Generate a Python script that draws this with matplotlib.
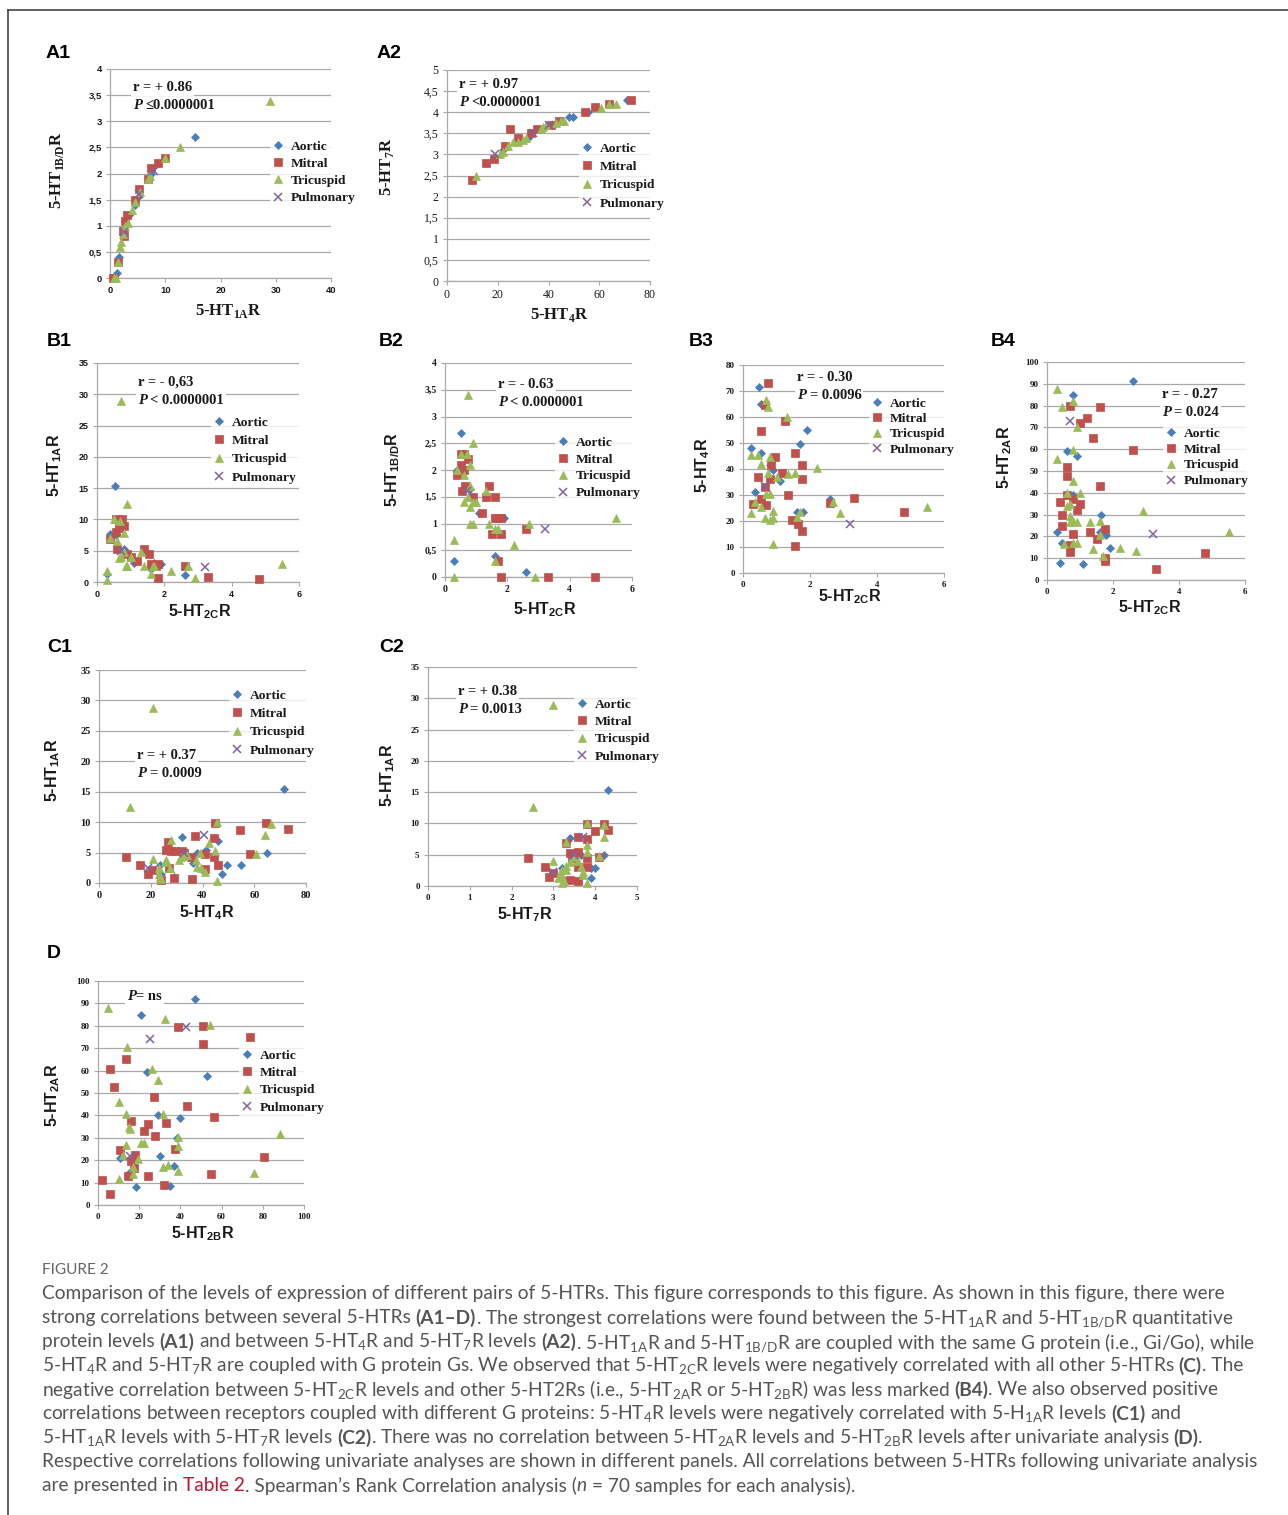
import matplotlib
matplotlib.use('Agg')
import matplotlib.pyplot as plt
from matplotlib.lines import Line2D
from matplotlib.ticker import FuncFormatter, MultipleLocator
import numpy as np

W, H = 1288, 1515
SERIF = 'Liberation Serif'
SANS = 'Liberation Sans'
CAPTION_FONT = 'Lato'
GRID = '#a9a9a9'
TXT = '#1a1a1a'

# ---- data: (x, y) pairs per valve ----
A1_AORTIC = [(15.4, 2.7), (1.6, 0.4), (1.2, 0.1), (7.5, 2.0), (5.0, 1.55), (4.5, 1.4), (3.5, 1.2), (2.5, 0.9)]
A1_MITRAL = [(10, 2.3), (8.7, 2.2), (7.5, 2.1), (6.8, 1.9), (5.3, 1.7), (4.5, 1.5), (3.0, 1.2), (2.8, 1.1),
             (2.4, 0.9), (2.5, 0.8), (1.5, 0.3), (0.5, 0.0), (0.8, 0.0)]
A1_TRICUSPID = [(29, 3.38), (12.6, 2.5), (10, 2.3), (6.8, 1.9), (7.2, 1.95), (5.5, 1.65), (4.5, 1.45), (4.0, 1.3),
                (3.2, 1.05), (2.7, 1.0), (2.3, 0.85), (2.0, 0.68), (1.8, 0.6), (1.5, 0.3), (0.8, 0.0), (1.0, 0.0)]
A1_PULMONARY = [(8.0, 2.05), (5.2, 1.6), (2.5, 0.88)]

A2_AORTIC = [(71, 4.3), (55.5, 4.0), (49.5, 3.88), (48, 3.88), (45, 3.8), (43, 3.75), (32, 3.4), (22, 3.1)]
A2_MITRAL = [(72.5, 4.3), (64, 4.2), (58.5, 4.12), (54.5, 4.0), (44, 3.8), (41, 3.7), (35.5, 3.6), (33, 3.5),
             (28, 3.4), (25, 3.6), (23, 3.2), (18.5, 2.9), (15.5, 2.8), (10, 2.4)]
A2_TRICUSPID = [(11.5, 2.5), (21, 3.0), (22, 3.05), (24, 3.2), (26, 3.3), (28, 3.3), (30, 3.35), (31, 3.4),
                (37, 3.6), (38, 3.65), (39, 3.7), (43, 3.75), (45, 3.8), (46, 3.8), (60.5, 4.1), (64, 4.2), (66.5, 4.2)]
A2_PULMONARY = [(19, 3.0), (34, 3.5), (40, 3.7)]

B1_AORTIC = [(0.52, 15.3), (0.4, 7.6), (0.55, 7.5), (0.3, 1.3), (0.8, 5.2), (1.1, 3.0), (1.6, 2.0), (1.7, 3.0),
             (1.9, 2.8), (2.6, 1.1)]
B1_MITRAL = [(0.55, 10), (0.75, 10), (0.8, 9), (0.65, 8.7), (0.55, 8), (0.4, 6.8), (0.6, 5.2), (0.9, 4.5), (1.0, 4),
             (1.2, 3.3), (1.4, 5.2), (1.55, 4.4), (1.6, 2.8), (1.75, 2.6), (1.8, 2.8), (1.8, 0.6), (2.6, 2.5),
             (3.3, 0.8), (4.8, 0.4)]
B1_TRICUSPID = [(0.7, 29), (0.9, 12.5), (0.5, 10), (0.68, 9.8), (0.8, 7.8), (0.4, 7), (0.6, 6.5), (0.3, 1.8),
                (0.3, 0.3), (0.7, 4), (0.65, 3.8), (0.8, 4.8), (0.85, 2.6), (0.9, 2.6), (1.0, 4), (1.3, 4.8),
                (1.4, 2.5), (1.6, 1.3), (1.65, 2.5), (1.7, 2.5), (2.2, 1.8), (2.7, 2.5), (2.9, 0.6), (5.5, 2.9)]
B1_PULMONARY = [(0.7, 5.0), (3.2, 2.4)]

B2_AORTIC = [(0.5, 2.7), (0.4, 2.0), (0.8, 1.65), (1.1, 1.2), (1.9, 1.1), (1.6, 0.4), (0.3, 0.3), (2.6, 0.1)]
B2_MITRAL = [(0.5, 2.3), (0.6, 2.3), (0.75, 2.2), (0.5, 2.1), (0.6, 2.0), (0.4, 1.9), (0.65, 1.7), (0.55, 1.6),
             (0.9, 1.5), (1.3, 1.5), (1.6, 1.5), (1.4, 1.7), (1.2, 1.2), (1.6, 1.1), (1.7, 1.1), (1.8, 1.1),
             (1.5, 0.8), (1.8, 0.8), (1.7, 0.3), (1.8, 0.0), (2.6, 0.9), (3.3, 0.0), (4.8, 0.0)]
B2_TRICUSPID = [(0.75, 3.4), (0.9, 2.5), (0.5, 2.3), (0.7, 2.3), (0.4, 2.0), (0.6, 1.9), (0.8, 2.1), (0.8, 1.7),
                (0.6, 1.4), (0.75, 1.5), (0.9, 1.4), (1.0, 1.4), (0.8, 1.3), (0.8, 1.0), (0.9, 1.0), (1.3, 1.6),
                (1.4, 1.0), (1.6, 0.9), (1.7, 0.9), (1.6, 0.3), (2.2, 0.6), (2.7, 1.0), (0.3, 0.7), (0.3, 0.0),
                (2.9, 0.0), (5.5, 1.1)]
B2_PULMONARY = [(0.7, 1.6), (3.2, 0.9)]

B3_AORTIC = [(0.47, 71.5), (0.55, 65), (0.25, 48), (0.55, 46), (0.8, 41.5), (0.9, 39.5), (1.1, 35.5), (0.35, 31),
             (1.7, 49.5), (1.9, 55), (1.6, 23.5), (1.8, 23.5), (2.6, 28.5)]
B3_MITRAL = [(0.75, 73), (0.65, 64.5), (0.55, 54.5), (1.25, 58.5), (0.95, 44.5), (0.85, 41.5), (0.8, 36),
             (1.15, 38.5), (0.45, 37), (0.65, 33), (0.55, 28.5), (0.3, 26.5), (0.7, 26), (1.35, 30), (1.55, 46),
             (1.75, 41.5), (1.75, 36), (1.45, 20.5), (1.65, 19), (1.75, 16), (1.55, 10.5), (2.6, 27), (3.3, 29),
             (4.8, 23.5)]
B3_TRICUSPID = [(0.7, 66.5), (0.75, 64), (1.3, 60), (0.25, 45.5), (0.45, 45.5), (0.55, 42), (0.8, 44.5),
                (0.75, 38.5), (1.0, 37), (1.35, 38), (1.55, 38.5), (2.2, 40.5), (0.35, 27.5), (0.7, 30.5),
                (0.8, 30.5), (0.55, 25.5), (0.25, 23), (0.65, 21), (0.8, 20.5), (0.9, 24), (0.9, 21), (0.9, 11),
                (1.6, 21.5), (1.7, 23.5), (2.7, 27.5), (2.9, 23), (5.5, 25.5)]
B3_PULMONARY = [(0.65, 33.5), (3.2, 19)]

B4_AORTIC = [(2.6, 91.5), (0.8, 85), (0.6, 59), (0.9, 57), (0.8, 39), (0.3, 22), (0.45, 17), (0.4, 8), (1.1, 7.5),
             (1.65, 30), (1.6, 22), (1.8, 20.5), (1.9, 14.5)]
B4_MITRAL = [(0.7, 80), (1.6, 79.5), (1.2, 74.5), (1.0, 72), (1.4, 65), (2.6, 59.5), (0.6, 52), (0.6, 47.5),
             (1.6, 43), (0.6, 39), (0.4, 36), (0.8, 37), (1.0, 35), (0.9, 32), (0.45, 30), (0.45, 25), (0.8, 21),
             (0.7, 16), (0.7, 13), (1.3, 22), (1.5, 19), (1.75, 23.5), (1.75, 10), (1.75, 8.5), (4.8, 12.5),
             (3.3, 5)]
B4_TRICUSPID = [(0.3, 87.5), (0.45, 79.5), (0.8, 82), (0.9, 70), (0.8, 59.5), (0.3, 55.5), (0.8, 45.5),
                (0.6, 40), (1.0, 40), (0.6, 34), (0.7, 35), (0.7, 29.5), (0.7, 26.5), (0.8, 27), (0.9, 26.5),
                (1.3, 26.5), (1.6, 27), (1.6, 20.5), (0.5, 16.5), (0.8, 17), (0.9, 17), (1.4, 14), (1.7, 11),
                (2.2, 14.5), (2.7, 13.5), (2.9, 31.5), (5.5, 22)]
B4_PULMONARY = [(0.7, 73), (3.2, 21)]

C1_AORTIC = [(71.5, 15.4), (65, 5), (55, 2.9), (49.5, 2.9), (47.5, 1.4), (46, 6.9), (41.5, 5.4), (40, 4.8),
             (38, 4.9), (36.5, 3.3), (32, 7.5), (23.5, 2.9), (24, 1.5), (29, 1.0)]
C1_MITRAL = [(73, 8.9), (64.5, 9.9), (54.5, 8.7), (58.5, 4.7), (45, 9.9), (44.5, 7.4), (44.5, 4.3), (46, 3.0),
             (41, 4.8), (41, 2.3), (37, 7.8), (35.5, 4.3), (36, 0.7), (32, 5.3), (33, 5.0), (29.5, 5.3),
             (28, 5.3), (26, 5.5), (26.5, 6.8), (27, 2.4), (29, 0.9), (24, 0.5), (16, 3), (19, 1.5), (10.5, 4.3),
             (20.5, 2.1)]
C1_TRICUSPID = [(21, 28.8), (12, 12.5), (45.5, 10), (66.5, 9.7), (64, 7.9), (60.5, 4.7), (45, 5.3), (42.5, 6.5),
                (39, 5), (37.5, 3.8), (38, 2.7), (39.5, 2.4), (41, 1.8), (45.5, 0.3), (28, 7), (27.5, 2.5),
                (25.5, 3.5), (26, 3.8), (21, 4), (23, 2.5), (23, 1.5), (23.5, 1), (24, 0.6), (31, 3.8),
                (31.5, 4.2), (33, 4.4), (34, 4.6)]
C1_PULMONARY = [(19, 2.5), (33, 5.0), (40.5, 7.9)]

C2_AORTIC = [(4.3, 15.4), (4.2, 5.0), (4.0, 2.9), (3.9, 2.9), (3.9, 1.3), (3.4, 7.6), (3.8, 7.2), (3.55, 5.4),
             (3.65, 4.9), (3.2, 2.9), (3.2, 1.2)]
C2_MITRAL = [(4.3, 8.9), (4.2, 9.9), (4.0, 8.8), (3.8, 9.9), (3.8, 7.5), (3.6, 7.8), (3.3, 6.8), (3.6, 5.4),
             (3.4, 5.2), (3.45, 4.5), (3.6, 3.0), (3.8, 4.4), (3.8, 3.0), (4.1, 4.7), (2.4, 4.5), (2.8, 3.0),
             (2.9, 1.4), (3.0, 2.1), (3.4, 1.0), (3.6, 0.8), (3.5, 5.0)]
C2_TRICUSPID = [(3.0, 29), (2.5, 12.6), (3.8, 10), (4.2, 9.8), (4.2, 7.8), (4.1, 4.8), (3.8, 6.6), (3.8, 5.5),
                (3.8, 0.5), (3.3, 7), (3.6, 4), (3.65, 3), (3.7, 2.2), (3.7, 1.8), (3.5, 4.7), (3.4, 3.8),
                (3.3, 3.2), (3.2, 2.5), (3.15, 2.0), (3.2, 1.5), (3.25, 0.8), (3.1, 1.2), (3.0, 4.0), (3.3, 2.5),
                (3.2, 0.4)]
C2_PULMONARY = [(3.0, 2.3), (3.5, 5.0), (3.7, 7.9)]

D_AORTIC = [(47, 92), (21, 85), (24, 59.5), (53, 57.5), (29, 40), (40, 39), (38.5, 30), (30, 22), (10.5, 21),
            (15, 14.5), (37, 17.5), (18.5, 8), (35, 8.5)]
D_MITRAL = [(39, 79.5), (51, 80), (51, 72), (74, 75), (13.5, 65), (6, 60.5), (8, 52.5), (27, 48), (43, 44),
            (56.5, 39.5), (16, 37.5), (24.5, 36), (33, 36.5), (22.5, 33), (27.5, 31), (37.5, 25), (10.5, 24.5),
            (18, 22.5), (16, 19.5), (17.5, 16.5), (14.5, 13), (24.5, 13), (55, 14), (32, 9), (2, 11), (6, 5),
            (80.5, 21.5)]
D_TRICUSPID = [(5, 88), (32.5, 83), (54.5, 80.5), (14, 70.5), (26, 60.5), (29, 56), (10, 46), (13.5, 40.5),
               (31.5, 40.5), (15, 35), (15.5, 34), (13.5, 27), (12, 22.5), (21, 27.5), (22.5, 27.5), (39, 30.5),
               (39, 26.5), (19.5, 20.5), (17, 17), (17, 14), (31.5, 17), (34, 18), (39, 15), (10, 11.5),
               (88.5, 31.5), (75.5, 14.5)]
D_PULMONARY = [(25, 74), (42.5, 79.5), (15.5, 22)]

VALVES = ['Aortic', 'Mitral', 'Tricuspid', 'Pulmonary']
# marker, colour, size
MARKERS = [('D', '#4a7ebb', 4.5), ('s', '#c0504d', 5.1), ('^', '#9bbb59', 6.2), ('x', '#8064a2', 6.0)]

fig = plt.figure(figsize=(W / 100, H / 100), dpi=100)
fig.patch.set_facecolor('white')
R = fig.canvas.get_renderer()


def fx(x):
    return x / W


def fy(y):
    return 1 - y / H


def advance(s, **kw):
    # horizontal advance of a string, trailing/leading spaces included
    t1 = fig.text(0, 0, '|' + s + '|', **kw)
    t2 = fig.text(0, 0, '||', **kw)
    w = t1.get_window_extent(R).width - t2.get_window_extent(R).width
    t1.remove()
    t2.remove()
    return w


def rich(x, y, parts, base, bbox=None):
    """draw consecutive text pieces on one line, pixel coords, y = line centre"""
    passes = [True, False] if bbox else [False]
    for with_box in passes:
        cx = x
        for s, extra in parts:
            kw = dict(base)
            kw.update(extra)
            lead = len(s) - len(s.lstrip(' '))
            body = s.strip(' ')
            if body:
                t = fig.text(fx(cx + (advance(' ' * lead, **kw) if lead else 0)), fy(y), body,
                             ha='left', va='center_baseline', **kw)
                if with_box:
                    # first pass: only the white boxes, text itself invisible
                    t.set_color('none')
                    t.set_bbox(bbox)
                    t.set_zorder(4)
            cx += advance(s, **kw)
    return cx


def comma(v, pos):
    return ('%g' % v).replace('.', ',')


def panel(tag, tag_xy, box, xlim, ylim, xstep, ystep, series, tickfont, labfam, xlabel, ylabel,
          xlab_xy, ylab_xy, ann, leg):
    x0, x1, yt, yb = box
    ax = fig.add_axes([fx(x0), fy(yb), (x1 - x0) / W, (yb - yt) / H])
    ax.set_xlim(*xlim)
    ax.set_ylim(*ylim)
    ax.xaxis.set_major_locator(MultipleLocator(xstep))
    ax.yaxis.set_major_locator(MultipleLocator(ystep))
    ax.yaxis.set_major_formatter(FuncFormatter(comma))
    ax.xaxis.set_major_formatter(FuncFormatter(comma))
    ax.yaxis.grid(True, color=GRID, lw=0.9)
    ax.set_axisbelow(True)
    for sp in ['top', 'right']:
        ax.spines[sp].set_visible(False)
    for sp in ['left', 'bottom']:
        ax.spines[sp].set_color(GRID)
        ax.spines[sp].set_linewidth(0.9)
    ax.tick_params(length=3, width=0.8, color=GRID, pad=3, labelcolor=TXT)
    for lab in ax.get_xticklabels() + ax.get_yticklabels():
        lab.set_fontproperties(dict(family=tickfont[0], weight=tickfont[1], size=tickfont[2]))

    for pts, (mk, col, ms) in zip(series, MARKERS):
        a = np.array(pts, dtype=float)
        ax.plot(a[:, 0], a[:, 1], ls='none', marker=mk, color=col, ms=ms,
                mew=1.1 if mk == 'x' else 0.5, clip_on=False, zorder=3)

    fig.text(fx(tag_xy[0]), fy(tag_xy[1]), tag, family=SANS, weight='bold', size=14,
             ha='left', va='center', color='black')
    lab_kw = dict(family=labfam, weight='bold', size=11.5 if labfam == SANS else 12, color=TXT)
    fig.text(fx(xlab_xy[0]), fy(xlab_xy[1]), xlabel, ha='center', va='center', **lab_kw)
    fig.text(fx(ylab_xy[0]), fy(ylab_xy[1]), ylabel, ha='center', va='center', rotation=90, **lab_kw)

    # correlation annotation
    ax_x, lines = ann
    base = dict(family=SERIF, weight='bold', size=10.5, color=TXT, zorder=5)
    box_kw = dict(boxstyle='square,pad=0.15', fc='white', ec='none')
    for yy, parts in lines:
        rich(ax_x, yy, parts, base, bbox=box_kw)

    # legend (white background hides the gridlines behind it, as in Excel)
    mx, my, step = leg
    fs = 9.7
    fspx = fs * 100 / 72
    handles = [Line2D([], [], ls='none', marker=mk, color=col, ms=ms, mew=1.1 if mk == 'x' else 0.5)
               for mk, col, ms in MARKERS]
    lg = ax.legend(handles, VALVES, loc='upper left',
                   bbox_to_anchor=(fx(mx - 0.2 * fspx - 0.4 * fspx), fy(my - 0.2 * fspx - 7.8)),
                   bbox_transform=fig.transFigure, frameon=True, fancybox=False,
                   prop=dict(family=SERIF, weight='bold', size=fs), handlelength=0.8,
                   handletextpad=0.55, borderpad=0.2, borderaxespad=0,
                   labelspacing=max(step - 15.5, 0) / fspx)
    lg.get_frame().set_facecolor('white')
    lg.get_frame().set_edgecolor('none')
    for t in lg.get_texts():
        t.set_color(TXT)
    return ax


def rp(r_txt, p_sign, p_val, x, y1, y2):
    return (x, [(y1, [(r_txt, {})]),
                (y2, [('P', dict(style='italic')), (' ' + p_sign + p_val, {})])])


def sub(base, s):
    return base + r'$_{\mathregular{' + s + '}}$R'


panel('A1', (46, 54), (110, 331, 69, 278), (0, 40), (0, 4), 10, 0.5,
      [A1_AORTIC, A1_MITRAL, A1_TRICUSPID, A1_PULMONARY], (SANS, 'bold', 6.8), SERIF,
      sub('5-HT', '1A'), sub('5-HT', '1B/D'), (228, 311), (57, 170),
      rp('r = + 0.86', '≤', '0.0000001', 133, 86, 104), (278, 148, 20.3))

panel('A2', (377, 54), (447, 650, 70, 281), (0, 80), (0, 5), 20, 0.5,
      [A2_AORTIC, A2_MITRAL, A2_TRICUSPID, A2_PULMONARY], (SERIF, 'normal', 8.5), SERIF,
      sub('5-HT', '4'), sub('5-HT', '7'), (559, 315), (387, 167),
      (459, [(83, [('r = + 0.97', {})]), (101, [('P', dict(style='italic')), (' <0.0000001', {})])]),
      (587, 150, 21.5))

panel('B1', (47, 341), (97, 299, 363, 582), (0, 6), (0, 35), 2, 5,
      [B1_AORTIC, B1_MITRAL, B1_TRICUSPID, B1_PULMONARY], (SANS, 'bold', 6.5), SANS,
      sub('5-HT', '2C'), sub('5-HT', '1A'), (200, 612), (55, 465),
      rp('r = - 0,63', '< ', '0.0000001', 138, 381, 399), (219, 424, 21.5))

panel('B2', (379, 341), (445, 632, 363, 577), (0, 6), (0, 4), 2, 0.5,
      [B2_AORTIC, B2_MITRAL, B2_TRICUSPID, B2_PULMONARY], (SERIF, 'bold', 7), SANS,
      sub('5-HT', '2C'), sub('5-HT', '1B/D'), (545, 610), (393, 470),
      rp('r = - 0.63', '< ', '0.0000001', 498, 383, 401), (563, 444, 20))

panel('B3', (689, 341), (743, 944, 365, 573), (0, 6), (0, 80), 2, 10,
      [B3_AORTIC, B3_MITRAL, B3_TRICUSPID, B3_PULMONARY], (SERIF, 'bold', 6.5), SANS,
      sub('5-HT', '2C'), sub('5-HT', '4'), (850, 597), (703, 465),
      rp('r = - 0.30', '= ', '0.0096', 797, 376, 394), (877, 405, 18.5))

panel('B4', (991, 341), (1047, 1245, 362, 580), (0, 6), (0, 100), 2, 10,
      [B4_AORTIC, B4_MITRAL, B4_TRICUSPID, B4_PULMONARY], (SERIF, 'bold', 6.5), SANS,
      sub('5-HT', '2C'), sub('5-HT', '2A'), (1150, 608), (1005, 457),
      rp('r = - 0.27', '= ', '0.024', 1162, 393, 411), (1171, 435, 19))

panel('C1', (47, 648), (99, 306, 670, 883), (0, 80), (0, 35), 20, 5,
      [C1_AORTIC, C1_MITRAL, C1_TRICUSPID, C1_PULMONARY], (SERIF, 'bold', 7.5), SANS,
      sub('5-HT', '4'), sub('5-HT', '1A'), (207, 913), (53, 770),
      rp('r = + 0.37', '= ', '0.0009', 137, 754, 772), (237, 697, 21.5))

panel('C2', (379, 648), (428, 637, 667, 886), (0, 5), (0, 35), 1, 5,
      [C2_AORTIC, C2_MITRAL, C2_TRICUSPID, C2_PULMONARY], (SERIF, 'bold', 6.5), SANS,
      sub('5-HT', '7'), sub('5-HT', '1A'), (525, 915), (388, 775),
      rp('r = + 0.38', '= ', '0.0013', 458, 690, 708), (582, 706, 20.5))

panel('D', (47, 953), (98, 304, 981, 1205), (0, 100), (0, 100), 20, 10,
      [D_AORTIC, D_MITRAL, D_TRICUSPID, D_PULMONARY], (SERIF, 'bold', 6.5), SANS,
      sub('5-HT', '2B'), sub('5-HT', '2A'), (203, 1234), (53, 1095),
      (127, [(995, [('P', dict(style='italic')), ('= ns', {})])]), (247, 1057, 20.5))

# ---- frame around the figure ----
fig.add_artist(Line2D([fx(8), fx(W)], [fy(10), fy(10)], color='#444444', lw=1.2))
fig.add_artist(Line2D([fx(8), fx(8)], [fy(10), fy(H)], color='#444444', lw=1.2))

# ---- caption ----
B = dict(weight='bold')
RED = dict(color='#c8102e')
IT = dict(style='italic')
s1A = '5-HT$_{\\mathregular{1A}}$R'
s1BD = '5-HT$_{\\mathregular{1B/D}}$R'
s4 = '5-HT$_{\\mathregular{4}}$R'
s7 = '5-HT$_{\\mathregular{7}}$R'
s2C = '5-HT$_{\\mathregular{2C}}$R'
s2A = '5-HT$_{\\mathregular{2A}}$R'
s2B = '5-HT$_{\\mathregular{2B}}$R'
CAPTION = [
    [('Comparison of the levels of expression of different pairs of 5-HTRs. This figure corresponds to this '
      'figure. As shown in this figure, there were', {})],
    [('strong correlations between several 5-HTRs ', {}), ('(A1–D)', B),
     ('. The strongest correlations were found between the ' + s1A + ' and ' + s1BD + ' quantitative', {})],
    [('protein levels ', {}), ('(A1)', B), (' and between ' + s4 + ' and ' + s7 + ' levels ', {}), ('(A2)', B),
     ('. ' + s1A + ' and ' + s1BD + ' are coupled with the same G protein (i.e., Gi/Go), while', {})],
    [(s4 + ' and ' + s7 + ' are coupled with G protein Gs. We observed that ' + s2C +
      ' levels were negatively correlated with all other 5-HTRs ', {}), ('(C)', B), ('. The', {})],
    [('negative correlation between ' + s2C + ' levels and other 5-HT2Rs (i.e., ' + s2A + ' or ' + s2B +
      ') was less marked ', {}), ('(B4)', B), ('. We also observed positive', {})],
    [('correlations between receptors coupled with different G proteins: ' + s4 +
      ' levels were negatively correlated with 5-H$_{\\mathregular{1A}}$R levels ', {}), ('(C1)', B), (' and', {})],
    [(s1A + ' levels with ' + s7 + ' levels ', {}), ('(C2)', B),
     ('. There was no correlation between ' + s2A + ' levels and ' + s2B +
      ' levels after univariate analysis ', {}), ('(D)', B), ('.', {})],
    [('Respective correlations following univariate analyses are shown in different panels. All correlations '
      'between 5-HTRs following univariate analysis', {})],
    [('are presented in ', {}), ('Table 2', RED), ('. Spearman’s Rank Correlation analysis (', {}), ('n', IT),
     (' = 70 samples for each analysis).', {})],
]

# fit the caption font size to the measured text block width
w12 = advance(CAPTION[7][0][0], family=CAPTION_FONT, size=12)
cap_size = 12 * (1258 - 42) / w12
cap_base = dict(family=CAPTION_FONT, size=cap_size, color='#555555')
fig.text(fx(42), fy(1270), 'FIGURE 2', family=CAPTION_FONT, size=cap_size * 0.8, color='#666666',
         ha='left', va='center')
for i, parts in enumerate(CAPTION):
    rich(42, 1292 + 24 * i, parts, cap_base)

fig.savefig('out.png', dpi=100, facecolor='white')
